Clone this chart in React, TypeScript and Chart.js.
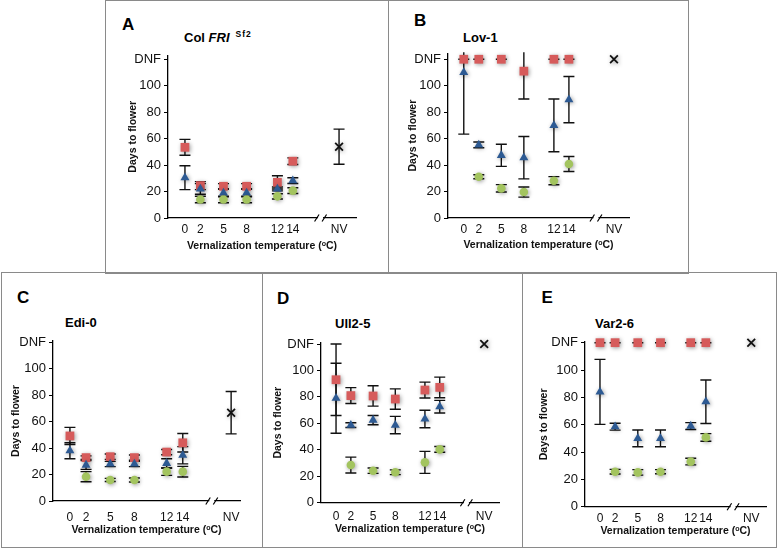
import React, { useEffect, useRef } from 'react';
import { Chart, registerables } from 'chart.js';
Chart.register(...registerables);

const FONT = "'Liberation Sans', Arial, Helvetica, sans-serif";

// ---- shared axis data ----
const TEMPS = [0, 2, 5, 8, 12, 14];
const NV_X = 20;
const BREAK_X = 17.6;
const X_TICKS = [0, 2, 5, 8, 12, 14, NV_X];
const Y_TICKS = [0, 20, 40, 60, 80, 100, 120];
const DNF = 120;

// ---- Panel A: Col FRI Sf2 ----
const A_RED = [53.5, 24.5, 24, 24, 27, 43];
const A_RED_ERR = [6, 3, 2, 2, 5, 2.5];
const A_BLUE = [30.5, 22, 19, 19, 22, 28.3];
const A_BLUE_ERR = [9, 4, 3, 3, 1.5, 2.2];
const A_GREEN = [null, 14, 14, 14, 16.4, 20.7];
const A_GREEN_ERR = [null, 2.5, 2.5, 2.5, 2, 2.2];
const A_NV = 54;
const A_NV_ERR = 13.3;

// ---- Panel B: Lov-1 ----
const B_RED = [120, 120, 120, 111, 120, 120];
const B_RED_ERR = [0, 0, 0, 21, 0, 0];
const B_BLUE = [110, 55.3, 47.4, 45.6, 70, 89.5];
const B_BLUE_ERR = [46.6, 2.2, 8.4, 16, 19.9, 17.5];
const B_GREEN = [null, 31.2, 22.4, 19.6, 28.2, 40.8];
const B_GREEN_ERR = [null, 1.5, 2.8, 3.8, 3.1, 5.7];
const B_NV = 120;
const B_NV_ERR = null;

// ---- Panel C: Edi-0 ----
const C_RED = [49.2, 32.8, 33.5, 32.8, 37, 44];
const C_RED_ERR = [6.5, 1.3, 2, 2, 2, 7];
const C_BLUE = [38, 27.2, 28, 28, 28.5, 34.6];
const C_BLUE_ERR = [6, 3.3, 2, 2, 3.5, 6.5];
const C_GREEN = [null, 18.4, 15.9, 15.9, 22.2, 22.2];
const C_GREEN_ERR = [null, 3.8, 1.2, 1.5, 2.8, 4];
const C_NV = 66.8;
const C_NV_ERR = 16;

// ---- Panel D: Ull2-5 ----
const D_RED = [93, 81, 80.7, 78.4, 85.2, 87.2];
const D_RED_ERR = [27, 6, 7.7, 7.7, 6, 7.8];
const D_BLUE = [79, 58.7, 62.5, 58.7, 63.3, 72.6];
const D_BLUE_ERR = [26.5, 1.8, 3.5, 6.6, 6.6, 4.8];
const D_GREEN = [null, 28.5, 24.2, 23, 30.5, 40.3];
const D_GREEN_ERR = [null, 6, 2, 1.8, 8.3, 2.2];
const D_NV = 120;
const D_NV_ERR = null;

// ---- Panel E: Var2-6 ----
const E_RED = [120, 120, 120, 120, 120, 120];
const E_RED_ERR = [0, 0, 0, 0, 0, 0];
const E_BLUE = [84, 58.5, 50, 50, 59, 76.8];
const E_BLUE_ERR = [23.8, 2.5, 6.1, 6.1, 2.5, 15.9];
const E_GREEN = [null, 25.6, 25.1, 25.6, 33, 50.7];
const E_GREEN_ERR = [null, 1.7, 2, 1.5, 2.4, 2.8];
const E_NV = 120;
const E_NV_ERR = null;

const RED = '#D65B5B';
const BLUE = '#2D5A93';
const GREEN = '#A3C45F';
const CAP = 5.5;

const X_TITLE = 'Vernalization temperature (\u1D52C)';
const Y_TITLE = 'Days to flower';

type Layout = {
  cell: { x: number; y: number; w: number; h: number };
  area: { left: number; right: number; top: number; bottom: number };
  xMin: number; xMax: number; yMax: number;
  xTickOff: number; xTitleOff: number; yTitleOff: number;
};

const PANELS: any[] = [
  {
    letter: 'A', letterPos: [122, 15.6], titlePos: [184, 30.5], title: 'A',
    red: A_RED, redErr: A_RED_ERR, blue: A_BLUE, blueErr: A_BLUE_ERR,
    green: A_GREEN, greenErr: A_GREEN_ERR, nv: A_NV, nvErr: A_NV_ERR,
    layout: { cell: { x: 106, y: 1, w: 282, h: 271 }, area: { left: 168, right: 356, top: 55.5, bottom: 218 },
      xMin: -2.2, xMax: 22.2, yMax: 123, xTickOff: 12, xTitleOff: 28.4, yTitleOff: 34.7 },
  },
  {
    letter: 'B', letterPos: [414, 11.6], titlePos: [463, 30.5], title: 'Lov-1',
    red: B_RED, redErr: B_RED_ERR, blue: B_BLUE, blueErr: B_BLUE_ERR,
    green: B_GREEN, greenErr: B_GREEN_ERR, nv: B_NV, nvErr: B_NV_ERR,
    layout: { cell: { x: 389, y: 1, w: 298, h: 271 }, area: { left: 448, right: 629, top: 53.3, bottom: 218 },
      xMin: -2.1, xMax: 22, yMax: 124.5, xTickOff: 12, xTitleOff: 27, yTitleOff: 35 },
  },
  {
    letter: 'C', letterPos: [17, 289], titlePos: [65, 316.2], title: 'Edi-0',
    red: C_RED, redErr: C_RED_ERR, blue: C_BLUE, blueErr: C_BLUE_ERR,
    green: C_GREEN, greenErr: C_GREEN_ERR, nv: C_NV, nvErr: C_NV_ERR,
    layout: { cell: { x: 2, y: 273, w: 259, h: 273 }, area: { left: 53, right: 240, top: 341, bottom: 501 },
      xMin: -2.1, xMax: 21.1, yMax: 121, xTickOff: 17, xTitleOff: 29, yTitleOff: 37 },
  },
  {
    letter: 'D', letterPos: [277, 289.6], titlePos: [335, 317.2], title: 'Ull2-5',
    red: D_RED, redErr: D_RED_ERR, blue: D_BLUE, blueErr: D_BLUE_ERR,
    green: D_GREEN, greenErr: D_GREEN_ERR, nv: D_NV, nvErr: D_NV_ERR,
    layout: { cell: { x: 263, y: 273, w: 258, h: 273 }, area: { left: 321, right: 499, top: 342.7, bottom: 502.7 },
      xMin: -2.03, xMax: 22, yMax: 121, xTickOff: 14, xTitleOff: 26.6, yTitleOff: 42.5 },
  },
  {
    letter: 'E', letterPos: [541.5, 289], titlePos: [595, 317.2], title: 'Var2-6',
    red: E_RED, redErr: E_RED_ERR, blue: E_BLUE, blueErr: E_BLUE_ERR,
    green: E_GREEN, greenErr: E_GREEN_ERR, nv: E_NV, nvErr: E_NV_ERR,
    layout: { cell: { x: 523, y: 273, w: 253, h: 273 }, area: { left: 585, right: 766, top: 342, bottom: 506.7 },
      xMin: -1.98, xMax: 21.95, yMax: 120.5, xTickOff: 11.5, xTitleOff: 24.4, yTitleOff: 41 },
  },
];

function series(vals: (number | null)[], errs: (number | null)[]) {
  const pts: { x: number; y: number }[] = [];
  const e: (number | null)[] = [];
  vals.forEach((v, i) => {
    if (v != null) {
      pts.push({ x: TEMPS[i], y: v });
      e.push(errs[i]);
    }
  });
  return { pts, e };
}

const errorBarsPlugin = {
  id: 'errorBars',
  beforeDatasetsDraw(chart: any) {
    const { ctx, chartArea: a, scales } = chart;
    const ys = scales.y;
    ctx.save();
    ctx.beginPath();
    ctx.rect(a.left - 20, a.top - 1, a.right - a.left + 40, a.bottom - a.top + 2);
    ctx.clip();
    ctx.strokeStyle = '#111';
    ctx.lineWidth = 1.4;
    chart.data.datasets.forEach((ds: any, i: number) => {
      const meta = chart.getDatasetMeta(i);
      const errs = ds.errors || [];
      ds.data.forEach((p: any, j: number) => {
        const e = errs[j];
        if (e == null) return;
        const el = meta.data[j];
        const x = el.x;
        const y1 = ys.getPixelForValue(p.y + e);
        const y2 = ys.getPixelForValue(p.y - e);
        ctx.beginPath();
        ctx.moveTo(x, y1); ctx.lineTo(x, y2);
        ctx.moveTo(x - CAP, y1); ctx.lineTo(x + CAP, y1);
        ctx.moveTo(x - CAP, y2); ctx.lineTo(x + CAP, y2);
        ctx.stroke();
      });
    });
    ctx.restore();
    ctx.shadowColor = 'rgba(0,0,0,0.4)';
    ctx.shadowBlur = 4;
    ctx.shadowOffsetX = 1;
    ctx.shadowOffsetY = 1;
  },
  afterDatasetsDraw(chart: any) {
    const ctx = chart.ctx;
    ctx.shadowColor = 'rgba(0,0,0,0)';
    ctx.shadowBlur = 0;
    ctx.shadowOffsetX = 0;
    ctx.shadowOffsetY = 0;
  },
};

const breakPlugin = {
  id: 'axisBreak',
  afterDraw(chart: any) {
    const { ctx, chartArea: a, scales } = chart;
    const px = scales.x.getPixelForValue(BREAK_X);
    const py = a.bottom;
    ctx.save();
    ctx.fillStyle = '#fff';
    ctx.fillRect(px - 2.5, py - 2, 5, 4);
    ctx.strokeStyle = '#000';
    ctx.lineWidth = 1.2;
    ctx.beginPath();
    ctx.moveTo(px - 6, py + 3.5); ctx.lineTo(px - 1.5, py - 3.5);
    ctx.moveTo(px + 1.5, py + 3.5); ctx.lineTo(px + 6, py - 3.5);
    ctx.stroke();
    ctx.restore();
  },
};

const W_Y = 50;
const H_X = 36;
const TITLE_LH = 12.6;
const X_TICK_SIZE = 12;
const Y_TICK_SIZE = 13;
const TICK_LH = X_TICK_SIZE * 1.2;

function Panel({ p }: { p: any }) {
  const ref = useRef<HTMLCanvasElement>(null);
  useEffect(() => {
    const L: Layout = p.layout;
    const { cell, area } = L;
    const red = series(p.red, p.redErr);
    const blue = series(p.blue, p.blueErr);
    const green = series(p.green, p.greenErr);
    const common = { showLine: false, clip: false as any, pointBorderWidth: 0 };
    const chart = new Chart(ref.current as HTMLCanvasElement, {
      type: 'scatter',
      data: {
        datasets: [
          { ...common, data: green.pts, errors: green.e, pointStyle: 'circle', pointRadius: 4.3,
            backgroundColor: GREEN, borderColor: GREEN } as any,
          { ...common, data: blue.pts, errors: blue.e, pointStyle: 'triangle', pointRadius: 5.2,
            backgroundColor: BLUE, borderColor: BLUE } as any,
          { ...common, data: red.pts, errors: red.e, pointStyle: 'rect', pointRadius: 6.2,
            backgroundColor: RED, borderColor: RED } as any,
          { showLine: false, clip: false, data: [{ x: NV_X, y: p.nv }], errors: [p.nvErr],
            pointStyle: 'crossRot', pointRadius: 5.5, pointBorderWidth: 1.8,
            borderColor: '#111', backgroundColor: '#111' } as any,
        ],
      },
      options: {
        animation: false,
        responsive: false,
        maintainAspectRatio: false,
        events: [],
        layout: {
          padding: {
            left: area.left - cell.x - W_Y,
            top: area.top - cell.y,
            right: cell.x + cell.w - area.right,
            bottom: cell.y + cell.h - area.bottom - H_X,
          },
        },
        plugins: { legend: { display: false }, tooltip: { enabled: false } },
        scales: {
          x: {
            type: 'linear',
            min: L.xMin,
            max: L.xMax,
            afterBuildTicks: (s: any) => { s.ticks = X_TICKS.map((v) => ({ value: v })); },
            afterFit: (s: any) => { s.height = H_X; },
            ticks: {
              autoSkip: false,
              maxRotation: 0,
              padding: L.xTickOff - TICK_LH / 2,
              color: '#111',
              font: { family: FONT, size: X_TICK_SIZE },
              callback: (v: any) => (v === NV_X ? 'NV' : String(v)),
            },
            grid: { display: false, drawTicks: false },
            border: { display: true, color: '#000', width: 1.3 },
            title: {
              display: true,
              text: X_TITLE,
              color: '#111',
              font: { family: FONT, size: 10.5, weight: 'bold' },
              padding: { top: 0, bottom: H_X - TITLE_LH / 2 - L.xTitleOff },
            },
          },
          y: {
            type: 'linear',
            min: 0,
            max: L.yMax,
            afterBuildTicks: (s: any) => { s.ticks = Y_TICKS.map((v) => ({ value: v })); },
            afterFit: (s: any) => { s.width = W_Y; },
            ticks: {
              autoSkip: false,
              padding: 3,
              color: '#111',
              font: { family: FONT, size: Y_TICK_SIZE },
              callback: (v: any) => (v === DNF ? 'DNF' : String(v)),
            },
            grid: { display: true, drawOnChartArea: false, drawTicks: true, tickLength: 4, color: '#000', lineWidth: 1 },
            border: { display: true, color: '#000', width: 1.3 },
            title: {
              display: true,
              text: Y_TITLE,
              color: '#111',
              font: { family: FONT, size: 10.5, weight: 'bold' },
              padding: { top: W_Y - L.yTitleOff - TITLE_LH / 2, bottom: 0 },
            },
          },
        },
      } as any,
      plugins: [errorBarsPlugin, breakPlugin],
    });
    return () => chart.destroy();
  }, []);
  const { cell } = p.layout;
  return (
    <canvas
      ref={ref}
      width={cell.w}
      height={cell.h}
      style={{ position: 'absolute', left: cell.x, top: cell.y, width: cell.w, height: cell.h }}
    />
  );
}

const FRAME = '#8a8a8a';

export default function App() {
  return (
    <div style={{ position: 'absolute', left: 0, top: 0, width: 778, height: 549, background: '#fff', fontFamily: FONT, overflow: 'hidden' }}>
      {/* frames */}
      <div style={{ position: 'absolute', left: 105, top: 0, width: 584, height: 274, border: `1px solid ${FRAME}`, boxSizing: 'border-box' }} />
      <div style={{ position: 'absolute', left: 388, top: 0, width: 1, height: 273, background: FRAME }} />
      <div style={{ position: 'absolute', left: 1, top: 272, width: 776, height: 276, border: `1px solid ${FRAME}`, boxSizing: 'border-box', background: 'transparent' }} />
      <div style={{ position: 'absolute', left: 262, top: 272, width: 1, height: 276, background: FRAME }} />
      <div style={{ position: 'absolute', left: 522, top: 272, width: 1, height: 276, background: FRAME }} />
      {PANELS.map((p) => (
        <React.Fragment key={p.letter}>
          <div style={{ position: 'absolute', left: p.letterPos[0], top: p.letterPos[1], fontSize: 17, lineHeight: '17px', fontWeight: 'bold', color: '#000' }}>
            {p.letter}
          </div>
          <div style={{ position: 'absolute', left: p.titlePos[0], top: p.titlePos[1], fontSize: 13, lineHeight: '13px', fontWeight: 'bold', color: '#000', whiteSpace: 'nowrap' }}>
            {p.letter === 'A' ? (
              <>
                Col <i>FRI</i>
                <span style={{ fontSize: 8.5, position: 'relative', top: -5, marginLeft: 6, letterSpacing: 1 }}>Sf2</span>
              </>
            ) : (
              p.title
            )}
          </div>
          <Panel p={p} />
        </React.Fragment>
      ))}
    </div>
  );
}
